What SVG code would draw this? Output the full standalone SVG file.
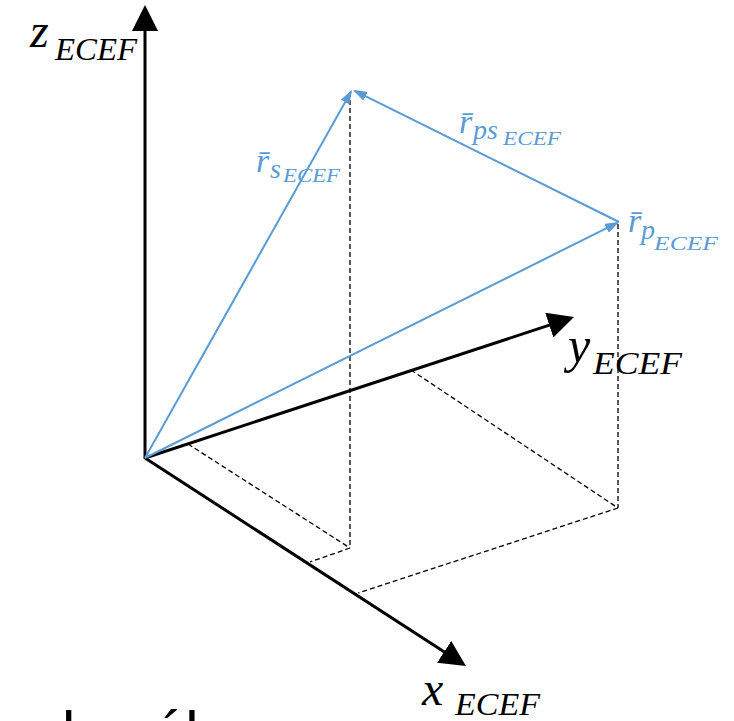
<svg xmlns="http://www.w3.org/2000/svg" width="734" height="721" viewBox="0 0 734 721">
<style>
.axis{stroke:#000;stroke-width:3;fill:none}
.vec{stroke:#5B9BD5;stroke-width:2;fill:none}
.dash{stroke:#000;stroke-width:1.3;stroke-dasharray:5,3;fill:none}
.m{font-family:"Liberation Serif",serif;font-style:italic;fill:#000}
.b{font-family:"Liberation Serif",serif;font-style:italic;fill:#5B9BD5}
.frag{font-family:"Liberation Sans",sans-serif;font-size:60px;fill:#000}
</style>
<defs>
<marker id="ah" markerUnits="userSpaceOnUse" markerWidth="26" markerHeight="26" refX="4" refY="13" orient="auto">
<path d="M0,0 L26,13 L0,26 z" fill="#000"/>
</marker>
<marker id="bh" markerUnits="userSpaceOnUse" markerWidth="14" markerHeight="10" refX="12" refY="5" orient="auto">
<path d="M0,0 L14,5 L0,10 z" fill="#5B9BD5"/>
</marker>
</defs>
<rect width="734" height="721" fill="#fff"/>
<g id="connectors">
<g id="dashed">
<line class="dash" x1="350" y1="92" x2="350" y2="548"/>
<line class="dash" x1="618" y1="224" x2="618" y2="508"/>
<line class="dash" x1="188" y1="444" x2="350" y2="548"/>
<line class="dash" x1="350" y1="548" x2="310" y2="562"/>
<line class="dash" x1="411" y1="370" x2="618" y2="508"/>
<line class="dash" x1="618" y1="508" x2="358" y2="593"/>
</g>
<line id="z-axis" class="axis" x1="145" y1="459" x2="145" y2="27" marker-end="url(#ah)"/>
<line id="y-axis" class="axis" x1="145" y1="458" x2="553.1" y2="323.9" marker-end="url(#ah)"/>
<line id="x-axis" class="axis" x1="145" y1="458" x2="447.5" y2="654" marker-end="url(#ah)"/>
<line id="r-s" class="vec" x1="145" y1="458" x2="351" y2="91.7" marker-end="url(#bh)"/>
<line id="r-p" class="vec" x1="145" y1="458" x2="617.2" y2="222.9" marker-end="url(#bh)"/>
<line id="r-ps" class="vec" x1="619" y1="222" x2="354.8" y2="90.9" marker-end="url(#bh)"/>
</g>
<g id="label-z">
<text class="m" x="30" y="47" font-size="48">z</text>
<text class="m" x="55" y="60" font-size="32" textLength="82" lengthAdjust="spacingAndGlyphs">ECEF</text>
</g>
<g id="label-y">
<text class="m" x="568" y="362" font-size="50">y</text>
<text class="m" x="593" y="374" font-size="32" textLength="89" lengthAdjust="spacingAndGlyphs">ECEF</text>
</g>
<g id="label-x">
<text class="m" x="422" y="705" font-size="48">x</text>
<text class="m" x="455" y="715" font-size="32" textLength="85" lengthAdjust="spacingAndGlyphs">ECEF</text>
</g>
<g id="label-rs">
<text class="b" x="256" y="172" font-size="34">r̄</text>
<text class="b" x="270" y="178" font-size="28">s</text>
<text class="b" x="283" y="182" font-size="19" textLength="57" lengthAdjust="spacingAndGlyphs">ECEF</text>
</g>
<g id="label-rps">
<text class="b" x="459" y="133" font-size="34">r̄</text>
<text class="b" x="473" y="139" font-size="28">ps</text>
<text class="b" x="503" y="145" font-size="19" textLength="58" lengthAdjust="spacingAndGlyphs">ECEF</text>
</g>
<g id="label-rp">
<text class="b" x="628" y="232" font-size="34">r̄</text>
<text class="b" x="641" y="239" font-size="28">p</text>
<text class="b" x="654" y="250" font-size="19" textLength="64" lengthAdjust="spacingAndGlyphs">ECEF</text>
</g>
<g id="bottom-fragments">
<text class="frag" x="62" y="753">l</text>
<text class="frag" x="152" y="753">ól</text>
</g>
</svg>
